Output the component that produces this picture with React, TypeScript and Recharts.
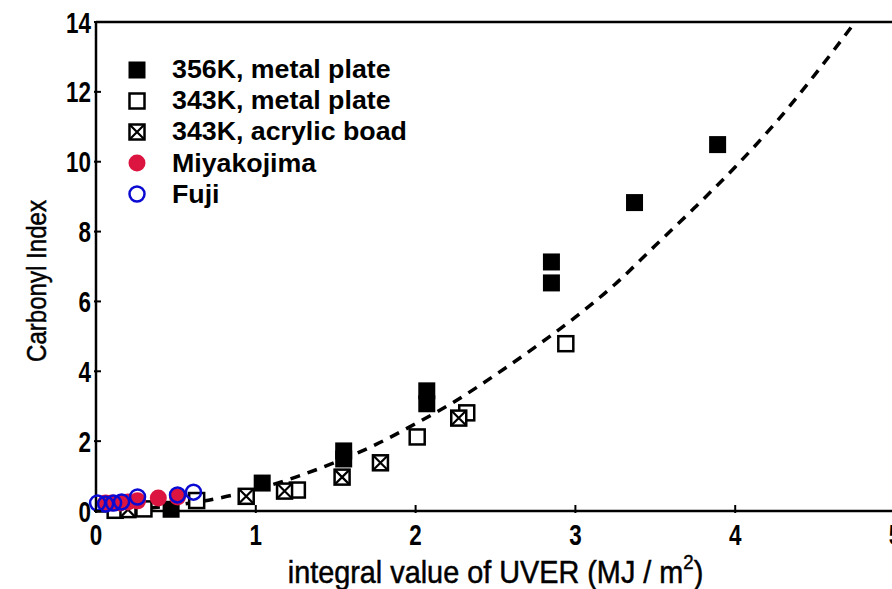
import {
  ComposedChart,
  Scatter,
  Line,
  XAxis,
  YAxis,
  ReferenceLine,
  Legend,
  Label
} from 'recharts';

// 356K, metal plate
const hot356X = [0.47, 1.04, 1.55, 1.55, 2.07, 2.07, 2.85, 2.85, 3.37, 3.89];
const hot356Y = [0.05, 0.8, 1.72, 1.49, 3.44, 3.07, 7.13, 6.53, 8.83, 10.49];

// 343K, metal plate
const plate343X = [0.12, 0.3, 0.63, 1.26, 2.01, 2.32, 2.94];
const plate343Y = [0.02, 0.06, 0.3, 0.6, 2.12, 2.81, 4.79];

// 343K, acrylic board
const acryl343X = [0.2, 0.94, 1.18, 1.54, 1.78, 2.27];
const acryl343Y = [0.04, 0.42, 0.57, 0.97, 1.38, 2.66];

// outdoor exposure
const miyakoX = [0.06, 0.1, 0.15, 0.2, 0.26, 0.39, 0.51];
const miyakoY = [0.23, 0.23, 0.23, 0.26, 0.29, 0.37, 0.4];
const fujiX = [0.01, 0.06, 0.11, 0.16, 0.26, 0.51, 0.61];
const fujiY = [0.23, 0.2, 0.23, 0.26, 0.4, 0.46, 0.54];

// dashed fit curve
const fitX = [0, 0.25, 0.5, 0.75, 1, 1.25, 1.5, 1.75, 2, 2.25, 2.5, 2.75, 3, 3.25, 3.5, 3.75, 4, 4.25, 4.5, 4.75];
const fitY = [0, 0.05, 0.17, 0.35, 0.62, 0.97, 1.4, 1.9, 2.5, 3.15, 3.9, 4.7, 5.55, 6.5, 7.6, 8.7, 9.85, 11.1, 12.5, 14.0];

const xTicks = [0, 1, 2, 3, 4, 5];
const yTicks = [0, 2, 4, 6, 8, 10, 12, 14];

const legendNames = ['356K, metal plate', '343K, metal plate', '343K, acrylic boad', 'Miyakojima', 'Fuji'];

const RED = '#dc1440';
const BLUE = '#0a0ad2';
const SANS = "'Liberation Sans', Arial, sans-serif";

const pts = (xs: number[], ys: number[]) => xs.map((x, i) => ({ x, y: ys[i] }));

const FilledSquare = ({ cx, cy }: any) => (
  <rect x={cx - 8.5} y={cy - 8.5} width={17} height={17} fill="#000" />
);
const OpenSquare = ({ cx, cy }: any) => (
  <rect x={cx - 7.5} y={cy - 7.5} width={15} height={15} fill="#fff" stroke="#000" strokeWidth={2.5} />
);
const CrossSquare = ({ cx, cy }: any) => (
  <g>
    <rect x={cx - 7.5} y={cy - 7.5} width={15} height={15} fill="#fff" stroke="#000" strokeWidth={2.5} />
    <path d={`M${cx - 7} ${cy - 7}L${cx + 7} ${cy + 7}M${cx + 7} ${cy - 7}L${cx - 7} ${cy + 7}`} stroke="#000" strokeWidth={2.2} />
  </g>
);
const RedDot = ({ cx, cy }: any) => <circle cx={cx} cy={cy} r={8.5} fill={RED} />;
const BlueRing = ({ cx, cy }: any) => (
  <circle cx={cx} cy={cy} r={7.5} fill="none" stroke={BLUE} strokeWidth={2.5} />
);

const shapes = [FilledSquare, OpenSquare, CrossSquare, RedDot, BlueRing];

// tick numbers are a condensed bold face; squeeze Liberation Sans Bold horizontally
const NarrowNum = ({ x, y, anchor, children }: any) => (
  <text
    transform={`translate(${x},${y}) scale(0.76,1)`}
    textAnchor={anchor}
    fontFamily={SANS}
    fontWeight="bold"
    fontSize={29.5}
    fill="#000"
  >
    {children}
  </text>
);

const XTick = ({ x, y, payload }: any) => (
  <g>
    <line x1={x} x2={x} y1={y} y2={y - 8} stroke="#000" strokeWidth={2} />
    <NarrowNum x={x} y={y + 32} anchor="middle">{payload.value}</NarrowNum>
  </g>
);

const YTick = ({ x, y, payload }: any) => (
  <g>
    <line x1={x} x2={x + 7} y1={y} y2={y} stroke="#000" strokeWidth={2} />
    <NarrowNum x={x - 3} y={y + 10.5} anchor="end">{payload.value}</NarrowNum>
  </g>
);

const renderLegend = () => (
  <div style={{ fontFamily: SANS, fontWeight: 'bold', fontSize: 25, color: '#000' }}>
    {legendNames.map((name, i) => {
      const Icon = shapes[i];
      return (
        <div key={name} style={{ display: 'flex', alignItems: 'center', height: 31.2 }}>
          <svg width={24} height={24} style={{ marginRight: 23 }}>
            <Icon cx={12} cy={12} />
          </svg>
          <span style={{ display: 'inline-block', transform: 'scaleX(1.07)', transformOrigin: 'left center' }}>
            {name}
          </span>
        </div>
      );
    })}
  </div>
);

export default function App() {
  return (
    <div style={{ position: 'absolute', left: 0, top: 0, width: 892, height: 589, overflow: 'hidden', background: '#fff' }}>
      <ComposedChart width={960} height={589} margin={{ top: 22, right: 65, left: 36, bottom: 38 }}>
        <XAxis
          type="number"
          dataKey="x"
          domain={[0, 5]}
          ticks={xTicks}
          height={40}
          tickSize={0}
          tickLine={false}
          tick={<XTick />}
          axisLine={{ stroke: '#000', strokeWidth: 2.5 }}
        >
          <Label
            content={({ viewBox }: any) => (
              <text
                transform={`translate(${viewBox.x + viewBox.width / 2},${viewBox.y + 72}) scale(0.93,1)`}
                textAnchor="middle"
                fontFamily={SANS}
                fontSize={31}
                fill="#000"
                stroke="#000"
                strokeWidth={0.5}
              >
                <tspan>integral value of UVER (MJ / m</tspan>
                <tspan dy={-14} fontSize={20}>2</tspan>
                <tspan dy={14}>)</tspan>
              </text>
            )}
          />
        </XAxis>
        <YAxis
          type="number"
          dataKey="y"
          domain={[0, 14]}
          ticks={yTicks}
          width={60}
          tickSize={0}
          tickLine={false}
          tick={<YTick />}
          axisLine={{ stroke: '#000', strokeWidth: 2.5 }}
        >
          <Label
            content={() => (
              <text
                transform="translate(46,281) rotate(-90) scale(0.86,1)"
                textAnchor="middle"
                fontFamily={SANS}
                fontSize={28}
                fill="#000"
                stroke="#000"
                strokeWidth={0.5}
              >
                Carbonyl Index
              </text>
            )}
          />
        </YAxis>
        <ReferenceLine y={14} stroke="#000" strokeWidth={2.5} />
        <Scatter name={legendNames[0]} data={pts(hot356X, hot356Y)} dataKey="y" shape={FilledSquare} isAnimationActive={false} />
        <Scatter name={legendNames[1]} data={pts(plate343X, plate343Y)} dataKey="y" shape={OpenSquare} isAnimationActive={false} />
        <Scatter name={legendNames[2]} data={pts(acryl343X, acryl343Y)} dataKey="y" shape={CrossSquare} isAnimationActive={false} />
        <Line
          data={pts(fitX, fitY)}
          dataKey="y"
          type="monotone"
          stroke="#000"
          strokeWidth={3.5}
          strokeDasharray="10 8"
          dot={false}
          activeDot={false}
          legendType="none"
          isAnimationActive={false}
        />
        <Scatter name={legendNames[3]} data={pts(miyakoX, miyakoY)} dataKey="y" shape={RedDot} isAnimationActive={false} />
        <Scatter name={legendNames[4]} data={pts(fujiX, fujiY)} dataKey="y" shape={BlueRing} isAnimationActive={false} />
        {/* middle/center placement keeps the legend from shrinking the plot */}
        <Legend
          layout="horizontal"
          verticalAlign="middle"
          align="center"
          content={renderLegend}
          wrapperStyle={{ position: 'absolute', left: 125, top: 54, width: 360, height: 160 }}
        />
      </ComposedChart>
    </div>
  );
}
